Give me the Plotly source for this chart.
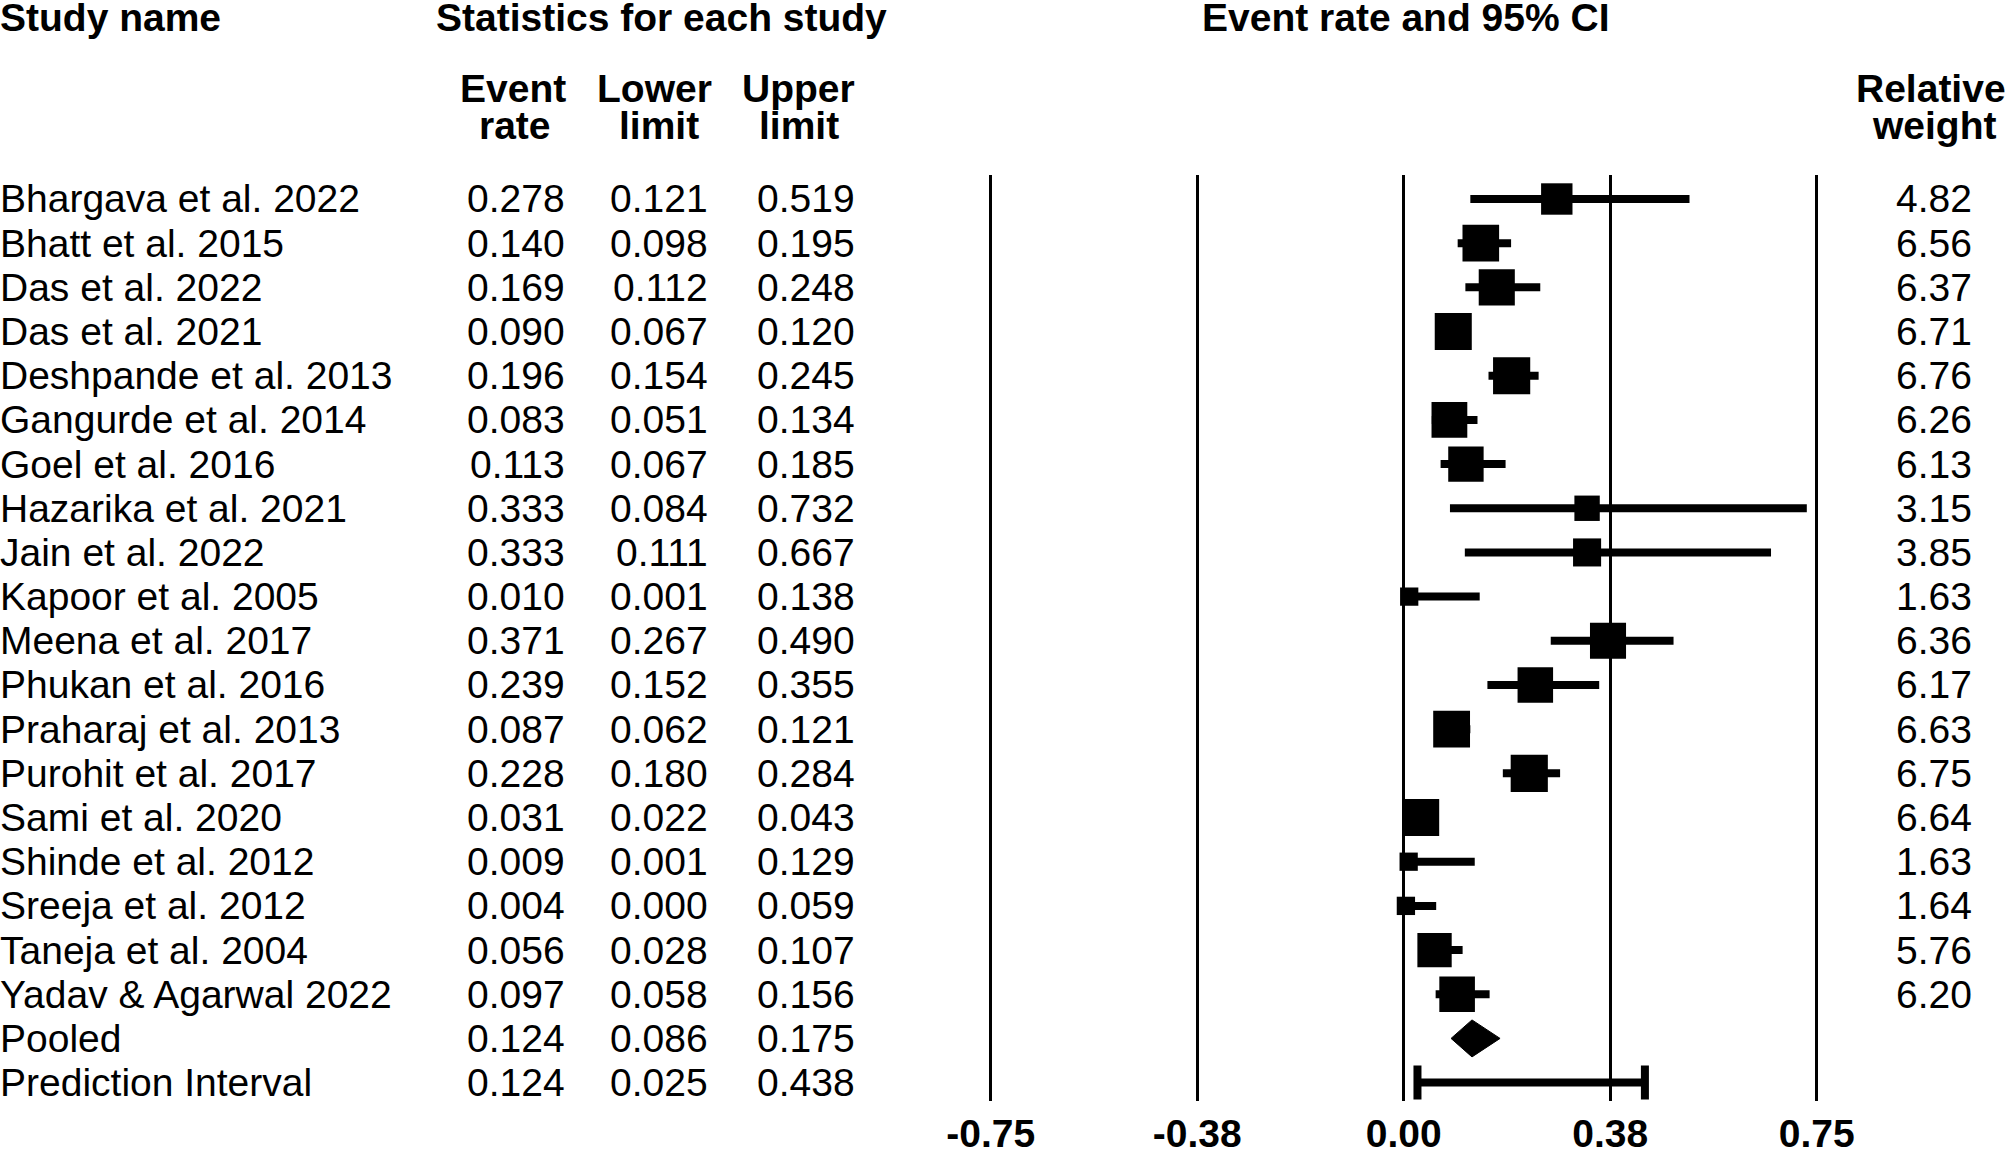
import numpy as np
import plotly.graph_objects as go

# ---------------- data ----------------
studies = [
    "Bhargava et al. 2022", "Bhatt et al. 2015", "Das et al. 2022", "Das et al. 2021",
    "Deshpande et al. 2013", "Gangurde et al. 2014", "Goel et al. 2016",
    "Hazarika et al. 2021", "Jain et al. 2022", "Kapoor et al. 2005",
    "Meena et al. 2017", "Phukan et al. 2016", "Praharaj et al. 2013",
    "Purohit et al. 2017", "Sami et al. 2020", "Shinde et al. 2012",
    "Sreeja et al. 2012", "Taneja et al. 2004", "Yadav & Agarwal 2022",
]
event_rate = [0.278, 0.140, 0.169, 0.090, 0.196, 0.083, 0.113, 0.333, 0.333, 0.010,
              0.371, 0.239, 0.087, 0.228, 0.031, 0.009, 0.004, 0.056, 0.097]
lower_limit = [0.121, 0.098, 0.112, 0.067, 0.154, 0.051, 0.067, 0.084, 0.111, 0.001,
               0.267, 0.152, 0.062, 0.180, 0.022, 0.001, 0.000, 0.028, 0.058]
upper_limit = [0.519, 0.195, 0.248, 0.120, 0.245, 0.134, 0.185, 0.732, 0.667, 0.138,
               0.490, 0.355, 0.121, 0.284, 0.043, 0.129, 0.059, 0.107, 0.156]
relative_weight = [4.82, 6.56, 6.37, 6.71, 6.76, 6.26, 6.13, 3.15, 3.85, 1.63,
                   6.36, 6.17, 6.63, 6.75, 6.64, 1.63, 1.64, 5.76, 6.20]

pooled_label = "Pooled"
pooled_rate, pooled_lower, pooled_upper = 0.124, 0.086, 0.175
pi_label = "Prediction Interval"
pi_rate, pi_lower, pi_upper = 0.124, 0.025, 0.438

tick_vals = [-0.75, -0.375, 0.0, 0.375, 0.75]
tick_text = ["-0.75", "-0.38", "0.00", "0.38", "0.75"]

# ---------------- layout geometry ----------------
W, H = 2008, 1149
FONT = "Liberation Sans, Arial, sans-serif"
FS = 39
x0_px, ppu = 1403.7, 550.7
top_px, bot_px = 175, 1101
row0_px, row_h = 199, 44.18

xrange = [-x0_px / ppu, (W - x0_px) / ppu]
yrange = [(bot_px - row0_px) / row_h, (top_px - row0_px) / row_h]
ydomain = [(H - bot_px) / H, (H - top_px) / H]

n = len(studies)
rows = list(range(n))

fig = go.Figure()

# study estimates with CI
fig.add_trace(go.Scatter(
    x=event_rate, y=rows, mode="markers",
    marker=dict(symbol="square", color="black", opacity=1,
                size=[14.3 * np.sqrt(w) for w in relative_weight], line=dict(width=0)),
    error_x=dict(type="data", symmetric=False,
                 array=[u - e for u, e in zip(upper_limit, event_rate)],
                 arrayminus=[e - l for e, l in zip(event_rate, lower_limit)],
                 color="black", thickness=8, width=0),
    showlegend=False, hoverinfo="skip",
))

# pooled diamond
ry = n
half_h = 18.5 / row_h
fig.add_trace(go.Scatter(
    x=[pooled_lower, pooled_rate, pooled_upper, pooled_rate, pooled_lower],
    y=[ry, ry - half_h, ry, ry + half_h, ry],
    mode="lines", fill="toself", fillcolor="black",
    line=dict(color="black", width=1),
    showlegend=False, hoverinfo="skip",
))

# prediction interval
fig.add_trace(go.Scatter(
    x=[pi_rate], y=[n + 1], mode="markers",
    marker=dict(size=1, color="rgba(0,0,0,0)"),
    error_x=dict(type="data", symmetric=False,
                 array=[pi_upper - pi_rate], arrayminus=[pi_rate - pi_lower],
                 color="black", thickness=8, width=17),
    showlegend=False, hoverinfo="skip",
))

# ---------------- text ----------------
ann = []

def add_text(text, xpx, y, xanchor, bold=False, yref="y"):
    yy = y if yref == "y" else 1 - y / H
    ann.append(dict(
        text=text, x=xpx / W, xref="paper", y=yy, yref=yref,
        xanchor=xanchor, yanchor="middle", showarrow=False,
        font=dict(family=FONT, size=FS, color="black",
                  weight="bold" if bold else "normal"),
    ))

all_names = studies + [pooled_label, pi_label]
all_rate = event_rate + [pooled_rate, pi_rate]
all_low = lower_limit + [pooled_lower, pi_lower]
all_up = upper_limit + [pooled_upper, pi_upper]

for i, name in enumerate(all_names):
    add_text(name, -2, i, "left")
    add_text(f"{all_rate[i]:.3f}", 567, i, "right")
    add_text(f"{all_low[i]:.3f}", 710, i, "right")
    add_text(f"{all_up[i]:.3f}", 857, i, "right")
for i, w in enumerate(relative_weight):
    add_text(f"{w:.2f}", 1974, i, "right")

# headers
add_text("Study name", -2, 17, "left", True, "paper")
add_text("Statistics for each study", 661, 17, "center", True, "paper")
add_text("Event rate and 95% CI", 1405, 17, "center", True, "paper")
add_text("Event", 513, 88, "center", True, "paper")
add_text("rate", 515, 125, "center", True, "paper")
add_text("Lower", 654, 88, "center", True, "paper")
add_text("limit", 659, 125, "center", True, "paper")
add_text("Upper", 798, 88, "center", True, "paper")
add_text("limit", 799, 125, "center", True, "paper")
add_text("Relative", 1931, 88, "center", True, "paper")
add_text("weight", 1934, 125, "center", True, "paper")

fig.update_layout(
    width=W, height=H, margin=dict(l=0, r=0, t=0, b=0, autoexpand=False),
    paper_bgcolor="white", plot_bgcolor="white",
    annotations=ann,
    xaxis=dict(range=xrange, domain=[0, 1], tickmode="array", tickvals=tick_vals,
               ticktext=tick_text, showgrid=True, gridcolor="black", gridwidth=3,
               zeroline=False, showline=False, automargin=False,
               ticks="", ticklabelstandoff=6,
               tickfont=dict(family=FONT, size=FS, color="black", weight="bold"),
               fixedrange=True),
    yaxis=dict(range=yrange, domain=ydomain, showgrid=False, zeroline=False,
               showticklabels=False, showline=False, ticks="", automargin=False,
               fixedrange=True),
)

fig.write_html(
    "out.html",
    config={"displayModeBar": False},
    post_script="document.body.style.margin='0';document.body.style.overflow='hidden';",
)
